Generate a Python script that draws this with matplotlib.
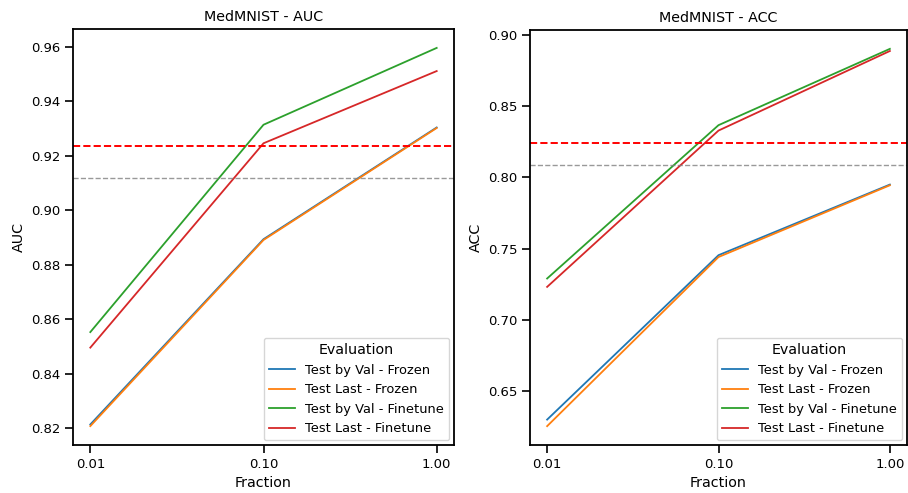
import numpy as np
import matplotlib.pyplot as plt

fractions = [0.01, 0.10, 1.00]
labels = ["Test by Val - Frozen", "Test Last - Frozen",
          "Test by Val - Finetune", "Test Last - Finetune"]
colors = ["#1f77b4", "#ff7f0e", "#2ca02c", "#d62728"]

# AUC
auc_val_frozen = [0.8213, 0.8893, 0.9303]
auc_last_frozen = [0.8207, 0.8890, 0.9301]
auc_val_finetune = [0.8552, 0.9313, 0.9595]
auc_last_finetune = [0.8495, 0.9245, 0.9510]
auc_ref_red = 0.9234
auc_ref_gray = 0.9118

# ACC
acc_val_frozen = [0.6296, 0.7453, 0.7950]
acc_last_frozen = [0.6250, 0.7440, 0.7945]
acc_val_finetune = [0.7289, 0.8368, 0.8905]
acc_last_finetune = [0.7230, 0.8330, 0.8890]
acc_ref_red = 0.8246
acc_ref_gray = 0.8087

fig = plt.figure(figsize=(9.08, 4.93), dpi=100)
ax1 = fig.add_axes([73 / 908, 1 - 445 / 493, (454 - 73) / 908, (445 - 29) / 493])
ax2 = fig.add_axes([530 / 908, 1 - 445 / 493, (907 - 530) / 908, (445 - 30) / 493])


def draw(ax, series, ref_red, ref_gray, title, ylabel):
    for s, lab, c in zip(series, labels, colors):
        ax.plot(fractions, s, color=c, lw=1.3, label=lab)
    ax.axhline(ref_red, color="red", ls="--", lw=1.4)
    ax.axhline(ref_gray, color="gray", ls="--", lw=1.0, alpha=0.8)
    ax.set_xscale("log")
    ax.set_xticks(fractions)
    ax.set_xticklabels(["0.01", "0.10", "1.00"])
    ax.minorticks_off()
    ax.set_title(title, fontsize=10.3)
    ax.set_xlabel("Fraction", fontsize=10.3)
    ax.set_ylabel(ylabel, fontsize=10.3)
    ax.tick_params(labelsize=9.5, width=1.2, length=5.5)
    for sp in ax.spines.values():
        sp.set_linewidth(1.3)
    ax.legend(title="Evaluation", loc="lower right", fontsize=9.4,
              title_fontsize=10.3, borderaxespad=0.35)


draw(ax1, [auc_val_frozen, auc_last_frozen, auc_val_finetune, auc_last_finetune],
     auc_ref_red, auc_ref_gray, "MedMNIST - AUC", "AUC")
ax1.yaxis.set_major_formatter(plt.FormatStrFormatter("%.2f"))
draw(ax2, [acc_val_frozen, acc_last_frozen, acc_val_finetune, acc_last_finetune],
     acc_ref_red, acc_ref_gray, "MedMNIST - ACC", "ACC")
ax2.yaxis.set_major_formatter(plt.FormatStrFormatter("%.2f"))

fig.savefig("out.png", dpi=100)
